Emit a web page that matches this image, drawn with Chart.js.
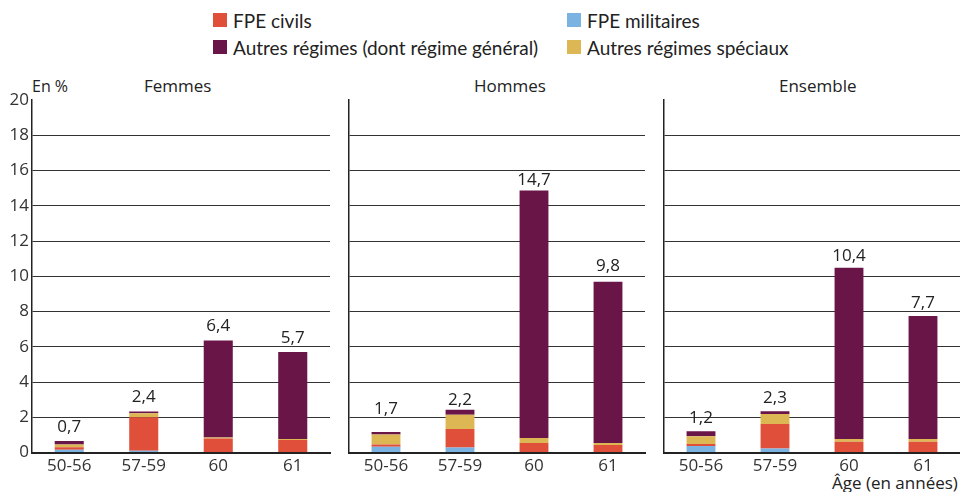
<!DOCTYPE html>
<html>
<head>
<meta charset="utf-8">
<script src="https://cdn.jsdelivr.net/npm/chart.js@4"></script>
<style>
  body { margin: 0; background: #fff; width: 960px; height: 492px; overflow: hidden; position: relative; font-family: "Open Sans", sans-serif; color: #222; }
  .box { position: absolute; }
  .legend { position: absolute; font-family: Lato, sans-serif; font-size: 19px; color: #222; display: flex; align-items: center; white-space: nowrap; height: 20px; }
  .legend span.sq { display: inline-block; width: 14px; height: 14px; margin-right: 6px; }
  .txt { position: absolute; font-size: 17px; color: #222; white-space: nowrap; }
</style>
</head>
<body>
<div class="legend" style="left:213px; top:10px;"><span class="sq" style="background:#e04f39"></span>FPE civils</div>
<div class="legend" style="left:567px; top:10px;"><span class="sq" style="background:#7ab3e2"></span>FPE militaires</div>
<div class="legend" style="left:213px; top:37px;"><span class="sq" style="background:#6a1548"></span>Autres régimes (dont régime général)</div>
<div class="legend" style="left:567px; top:37px;"><span class="sq" style="background:#dcb753"></span>Autres régimes spéciaux</div>

<div class="txt" style="left:32px; top:75px; font-size:16px;">En %</div>
<div class="txt" style="left:144px; top:74px;">Femmes</div>
<div class="txt" style="left:474px; top:74px;">Hommes</div>
<div class="txt" style="left:779px; top:74px;">Ensemble</div>
<div class="txt" style="left:832px; top:471px;">Âge (en années)</div>

<div class="box" style="left:0; top:70px; width:340px; height:422px;"><canvas id="femmesChart"></canvas></div>
<div class="box" style="left:340px; top:70px; width:310px; height:422px;"><canvas id="hommesChart"></canvas></div>
<div class="box" style="left:655px; top:70px; width:305px; height:422px;"><canvas id="ensembleChart"></canvas></div>

<script>
// categories
const ages = ['50-56', '57-59', '60', '61'];
const yTicks = [0, 2, 4, 6, 8, 10, 12, 14, 16, 18, 20];

// Femmes
const femmesMilitaires = [0.15, 0.1, 0, 0];
const femmesCivils = [0.15, 1.9, 0.8, 0.71];
const femmesSpeciaux = [0.15, 0.23, 0.05, 0.05];
const femmesAutres = [0.2, 0.1, 5.5, 4.94];
const femmesTotals = [0.7, 2.4, 6.4, 5.7];

// Hommes
const hommesMilitaires = [0.32, 0.28, 0, 0];
const hommesCivils = [0.13, 1.06, 0.54, 0.43];
const hommesSpeciaux = [0.57, 0.8, 0.28, 0.11];
const hommesAutres = [0.15, 0.28, 14.04, 9.15];
const hommesTotals = [1.7, 2.2, 14.7, 9.8];

// Ensemble
const ensembleMilitaires = [0.37, 0.22, 0, 0];
const ensembleCivils = [0.11, 1.4, 0.61, 0.61];
const ensembleSpeciaux = [0.44, 0.57, 0.15, 0.15];
const ensembleAutres = [0.28, 0.15, 9.72, 6.99];
const ensembleTotals = [1.2, 2.3, 10.4, 7.7];

const colors = {
    militaires: '#7ab3e2',
    civils: '#e04f39',
    speciaux: '#dcb753',
    autres: '#6a1548'
};

// Draw the total above each bar, at the height of its value
const totalsPlugin = {
    id: 'totals',
    afterDatasetsDraw(chart, args, opts) {
        const ctx = chart.ctx;
        const yScale = chart.scales.y;
        const meta = chart.getDatasetMeta(0);
        ctx.save();
        ctx.font = '17px "Open Sans", sans-serif';
        ctx.fillStyle = '#222';
        ctx.textAlign = 'center';
        ctx.textBaseline = 'bottom';
        opts.values.forEach((v, i) => {
            const x = meta.data[i].x;
            const y = yScale.getPixelForValue(v);
            ctx.fillText(v.toFixed(1).replace('.', ','), x, y - 5);
        });
        ctx.restore();
    }
};

function makeChart(id, mil, civ, spe, aut, totals, showTicks, axisWidth, padRight) {
    const ctx = document.getElementById(id).getContext('2d');
    return new Chart(ctx, {
        type: 'bar',
        data: {
            labels: ages,
            datasets: [
                { label: 'FPE militaires', data: mil, backgroundColor: colors.militaires },
                { label: 'FPE civils', data: civ, backgroundColor: colors.civils },
                { label: 'Autres régimes spéciaux', data: spe, backgroundColor: colors.speciaux },
                { label: 'Autres régimes (dont régime général)', data: aut, backgroundColor: colors.autres }
            ]
        },
        plugins: [totalsPlugin],
        options: {
            responsive: true,
            maintainAspectRatio: false,
            animation: false,
            layout: { padding: { top: 30, right: padRight, left: 0, bottom: 0 } },
            datasets: {
                bar: { barPercentage: 0.39, categoryPercentage: 1, borderWidth: 0 }
            },
            scales: {
                x: {
                    stacked: true,
                    grid: { display: false, drawTicks: false },
                    border: { display: true, color: '#222', width: 2 },
                    ticks: {
                        color: '#333',
                        padding: 3,
                        font: { family: '"Open Sans", sans-serif', size: 17 }
                    },
                    afterFit(scale) { scale.height = 39.5; }
                },
                y: {
                    stacked: true,
                    min: 0,
                    max: 20,
                    afterBuildTicks(scale) { scale.ticks = yTicks.map(v => ({ value: v })); },
                    grid: {
                        drawTicks: false,
                        lineWidth: 1,
                        color: (c) => (c.tick && (c.tick.value === 20 || c.tick.value === 0)) ? 'rgba(0,0,0,0)' : '#333'
                    },
                    border: { display: true, color: '#222', width: 1.5 },
                    ticks: {
                        display: showTicks,
                        color: '#333',
                        padding: 3,
                        font: { family: '"Open Sans", sans-serif', size: 17 }
                    },
                    afterFit(scale) { scale.width = axisWidth; }
                }
            },
            plugins: {
                legend: { display: false },
                tooltip: { enabled: false },
                totals: { values: totals }
            }
        }
    });
}

makeChart('femmesChart', femmesMilitaires, femmesCivils, femmesSpeciaux, femmesAutres, femmesTotals, true, 32, 10);
makeChart('hommesChart', hommesMilitaires, hommesCivils, hommesSpeciaux, hommesAutres, hommesTotals, false, 9, 5);
makeChart('ensembleChart', ensembleMilitaires, ensembleCivils, ensembleSpeciaux, ensembleAutres, ensembleTotals, false, 9, 0);
</script>
</body>
</html>
